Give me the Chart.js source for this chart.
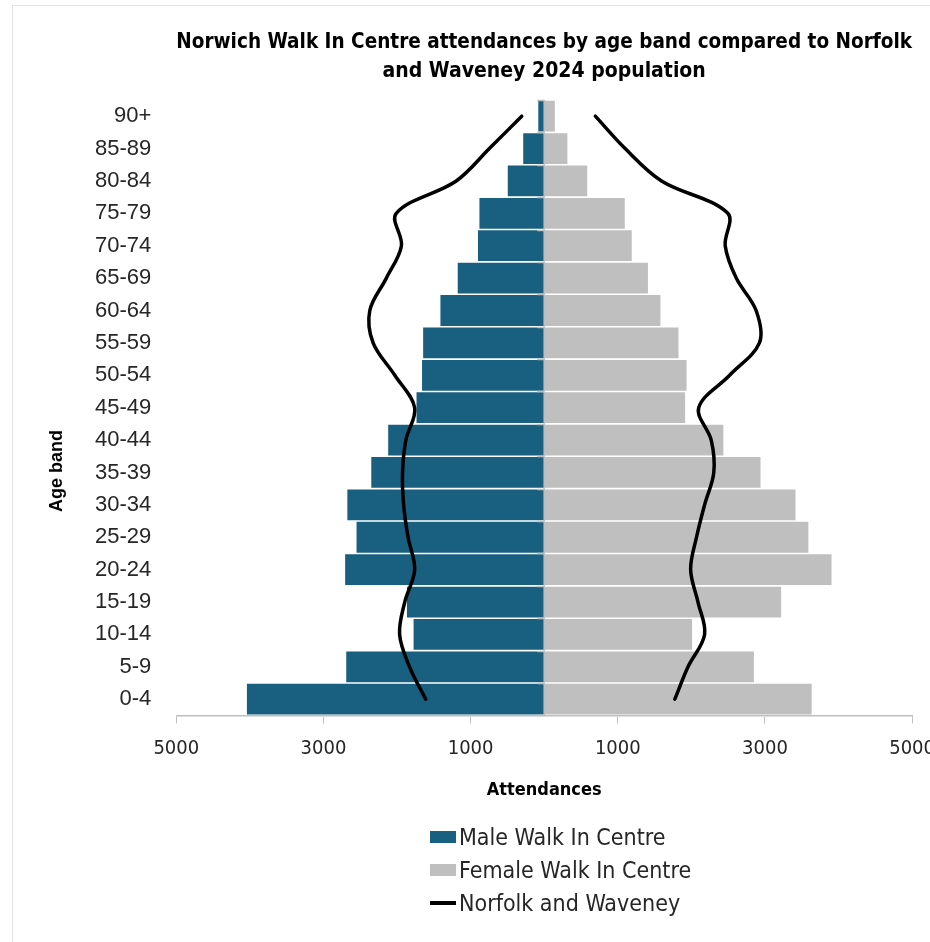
<!DOCTYPE html>
<html>
<head>
<meta charset="utf-8">
<title>Norwich Walk In Centre attendances by age band</title>
<script src="https://cdn.jsdelivr.net/npm/chart.js@4.4.1/dist/chart.umd.min.js"></script>
<style>
  html, body { margin: 0; padding: 0; background: #fff; }
  #wrap { position: relative; width: 930px; height: 942px; overflow: hidden; }
  #frame { position: absolute; left: 12px; top: 5px; width: 1000px; height: 1000px; border: 1px solid #e3e3e3; box-sizing: border-box; }
  #myChart { position: absolute; left: 0; top: 0; }
  #legend { position: absolute; left: 430px; top: 820px; font-family: "DejaVu Sans Condensed", sans-serif; font-size: 23px; color: #262626; }
  .item { display: flex; align-items: center; height: 33px; white-space: nowrap; }
  .swatch { width: 26px; margin-right: 3px; }
</style>
</head>
<body>
<div id="wrap">
  <div id="frame"></div>
  <!-- canvas is a bit wider than the frame so the last tick label is cut off, as in the original -->
  <canvas id="myChart" width="948" height="942"></canvas>
  <div id="legend"></div>
</div>
<script>
'use strict';

// * Age bands, youngest first (the y axis is reversed so 0-4 sits at the bottom).
const ageBands = ['0-4', '5-9', '10-14', '15-19', '20-24', '25-29', '30-34', '35-39', '40-44', '45-49',
  '50-54', '55-59', '60-64', '65-69', '70-74', '75-79', '80-84', '85-89', '90+'];

// * Walk In Centre attendances.
const maleAttendances = [4040, 2690, 1775, 1865, 2705, 2550, 2675, 2350, 2120, 1735,
  1660, 1645, 1410, 1175, 900, 880, 495, 285, 80];
const femaleAttendances = [3635, 2850, 2010, 3220, 3905, 3590, 3415, 2940, 2435, 1915,
  1935, 1825, 1580, 1410, 1190, 1095, 585, 315, 145];

// * Norfolk and Waveney 2024 population, drawn on the attendances scale.
const popMale = [1610, 1830, 1965, 1895, 1760, 1850, 1910, 1925, 1880, 1760,
  2030, 2325, 2370, 2145, 1940, 2010, 1195, 745, 305];
const popFemale = [1775, 1955, 2180, 2090, 1990, 2070, 2180, 2305, 2270, 2100,
  2520, 2925, 2880, 2610, 2460, 2495, 1595, 1100, 695];

const seriesLabels = ['Male Walk In Centre', 'Female Walk In Centre', 'Norfolk and Waveney'];
const seriesColors = ['#195f7f', '#bfbfbf', '#000000'];
const chartTitle = ['Norwich Walk In Centre attendances by age band compared to Norfolk', 'and Waveney 2024 population'];
const xAxisTitle = 'Attendances';
const yAxisTitle = 'Age band';

const narrow = '"DejaVu Sans Condensed", sans-serif';
const regular = '"Liberation Sans", Arial, sans-serif';

// * Draws the y axis title a little below the middle, where the original puts it.
const yTitlePlugin = {
  id: 'yTitle',
  afterDraw(chart) {
    const c = chart.ctx;
    c.save();
    c.translate(57, 471);
    c.rotate(-Math.PI / 2);
    c.font = `bold 18px ${regular}`;
    c.fillStyle = '#000';
    c.textAlign = 'center';
    c.textBaseline = 'middle';
    c.fillText(yAxisTitle, 0, 0);
    c.restore();
  },
};

// * The category axis line sits at zero with small tick marks between the bands.
const zeroAxisPlugin = {
  id: 'zeroAxis',
  afterDatasetsDraw(chart) {
    const { ctx: c, scales: { x, y } } = chart;
    const x0 = x.getPixelForValue(0);
    const step = (y.bottom - y.top) / ageBands.length;
    c.save();
    c.strokeStyle = '#bfbfbf';
    c.lineWidth = 1.5;
    c.beginPath();
    c.moveTo(x0, y.top);
    c.lineTo(x0, y.bottom);
    for (let i = 0; i <= ageBands.length; i++) {
      const py = Math.round(y.top + i * step) + 0.5;
      c.moveTo(x0 - 7, py);
      c.lineTo(x0, py);
    }
    c.stroke();
    c.restore();
  },
};

const ctx = document.getElementById('myChart').getContext('2d');

const chart = new Chart(ctx, {
  type: 'bar',
  data: {
    labels: ageBands,
    datasets: [
      {
        label: seriesLabels[0],
        data: maleAttendances.map((v) => -v),
        backgroundColor: seriesColors[0],
        order: 1,
      },
      {
        label: seriesLabels[1],
        data: femaleAttendances,
        backgroundColor: seriesColors[1],
        order: 1,
      },
      {
        type: 'line',
        label: seriesLabels[2],
        data: popMale.map((v) => -v),
        borderColor: seriesColors[2],
        borderWidth: 3.5,
        borderCapStyle: 'round',
        pointRadius: 0,
        tension: 0.35,
        order: 0,
      },
      {
        type: 'line',
        label: seriesLabels[2] + ' (female)',
        data: popFemale,
        borderColor: seriesColors[2],
        borderWidth: 3.5,
        borderCapStyle: 'round',
        pointRadius: 0,
        tension: 0.35,
        order: 0,
      },
    ],
  },
  options: {
    responsive: false,
    animation: false,
    indexAxis: 'y',
    datasets: {
      bar: { grouped: false, barPercentage: 0.95, categoryPercentage: 1 },
    },
    layout: { padding: { left: 70, right: 0, top: 0, bottom: 136 } },
    scales: {
      x: {
        min: -5000,
        max: 5000,
        ticks: {
          stepSize: 2000,
          padding: 13,
          color: '#262626',
          font: { family: narrow, size: 20 },
          callback: (value) => Math.abs(value),
        },
        grid: { drawOnChartArea: false, tickLength: 8, color: '#bfbfbf' },
        border: { color: '#bfbfbf', width: 1.5 },
        title: {
          display: true,
          text: xAxisTitle,
          color: '#000',
          font: { family: narrow, size: 18, weight: 'bold' },
          padding: { top: 6, bottom: 5 },
        },
      },
      y: {
        reverse: true,
        ticks: {
          padding: 25,
          color: '#262626',
          font: { family: regular, size: 22 },
        },
        grid: { display: false, drawTicks: false },
        border: { display: false },
      },
    },
    plugins: {
      legend: { display: false },
      tooltip: { enabled: false },
      title: {
        display: true,
        fullSize: false,
        text: chartTitle,
        color: '#000',
        font: { family: narrow, size: 21, weight: 'bold', lineHeight: 1.38 },
        padding: { top: 28, bottom: 14 },
      },
    },
  },
  plugins: [zeroAxisPlugin, yTitlePlugin],
});

// * Vertical legend under the chart, one row per series.
const legend = document.getElementById('legend');
seriesLabels.forEach((label, i) => {
  const row = document.createElement('div');
  row.className = 'item';
  const swatch = document.createElement('span');
  swatch.className = 'swatch';
  swatch.style.background = seriesColors[i];
  swatch.style.height = i === 2 ? '4px' : '12px';
  const text = document.createElement('span');
  text.textContent = label;
  row.appendChild(swatch);
  row.appendChild(text);
  legend.appendChild(row);
});
</script>
</body>
</html>
